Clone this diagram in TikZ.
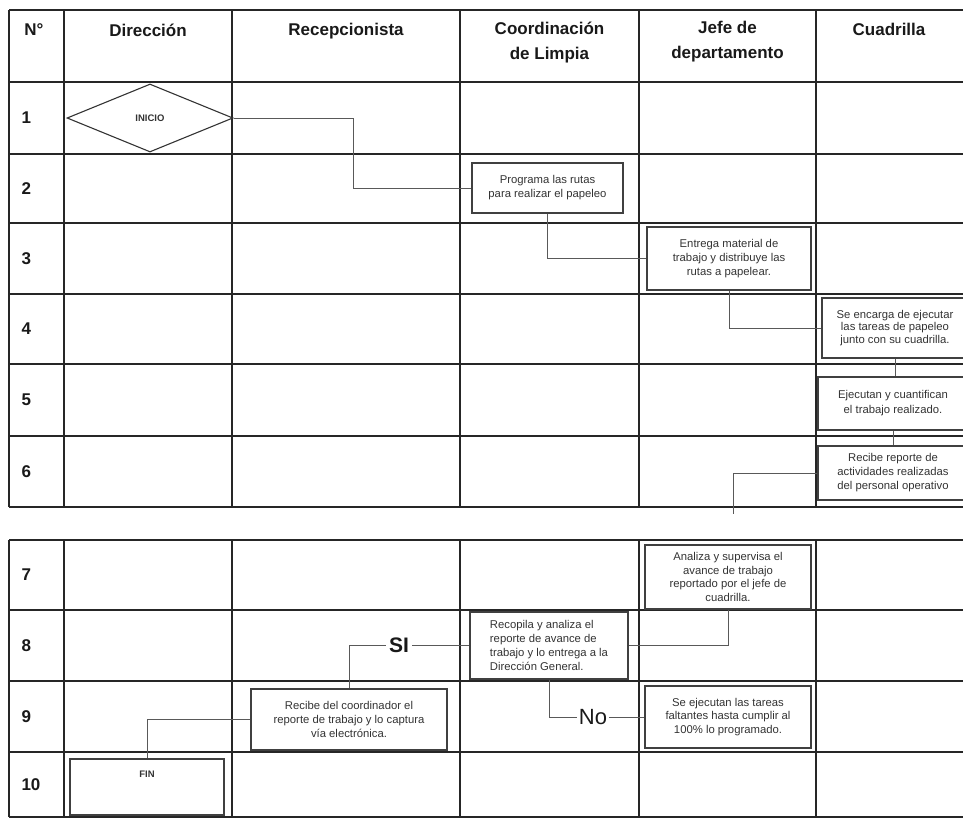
\documentclass[tikz,border=0pt]{standalone}
\usepackage{fontspec}
\setmainfont{Liberation Sans}
\usetikzlibrary{shapes.geometric,calc}
\begin{document}
\begin{tikzpicture}[x=1pt,y=-1pt,
  grid/.style={line width=1.6pt, draw=black!85},
  box/.style={draw=black!75, line width=1.1pt, rectangle, inner sep=2pt, align=center,
    font=\fontsize{11.3}{14}\selectfont, text=black!80},
  conn/.style={draw=black!65, line width=0.9pt},
  hdr/.style={font=\fontsize{17}{25}\selectfont\bfseries, align=center, anchor=north, text=black!90},
  num/.style={font=\fontsize{17}{20}\selectfont\bfseries, anchor=west, text=black!90},
  biglbl/.style={inner sep=3pt, text=black!90}
]
\useasboundingbox (0,0) rectangle (963,819);
\begin{scope}
\clip (0,0) rectangle (963,819);
% ---------- table 1 grid ----------
\foreach \yy in {10,82,154,223,294,364,436,507}
  \draw[grid] (9,\yy) -- (968,\yy);
\foreach \xx in {9,64,232,460,639,816,968}
  \draw[grid] (\xx,10) -- (\xx,507);
% ---------- table 2 grid ----------
\foreach \yy in {540,610,681,752,817}
  \draw[grid] (9,\yy) -- (968,\yy);
\foreach \xx in {9,64,232,460,639,816,968}
  \draw[grid] (\xx,540) -- (\xx,817);

% ---------- headers ----------
\node[hdr] (hN) at (34,20) {N°};
\node[hdr] (hD) at (148,20) {Dirección};
\node[hdr] (hR) at (346,20) {Recepcionista};
\node[hdr] (hC) at (549.5,18) {Coordinación\\de Limpia};
\node[hdr] (hJ) at (727.5,18) {Jefe de\\departamento};
\node[hdr] (hQ) at (889,20) {Cuadrilla};

% ---------- row numbers ----------
\node[num] (n1) at (18,118) {1};
\node[num] (n2) at (18,188.5) {2};
\node[num] (n3) at (18,258.5) {3};
\node[num] (n4) at (18,329) {4};
\node[num] (n5) at (18,400) {5};
\node[num] (n6) at (18,471.5) {6};
\node[num] (n7) at (18,575) {7};
\node[num] (n8) at (18,645.5) {8};
\node[num] (n9) at (18,716.5) {9};
\node[num] (n10) at (18,784.5) {10};

% ---------- flow elements ----------
\node[draw=black!80, line width=1.1pt, shape=diamond, aspect=2.44, inner sep=0pt,
      minimum width=166pt, minimum height=68pt,
      font=\fontsize{9.5}{10}\selectfont\bfseries, text=black!80] (inicio) at (150,118) {INICIO};

\node[box, minimum width=151pt, minimum height=50pt] (prog) at (547.5,188)
  {Programa las rutas\\para realizar el papeleo};
\node[box, minimum width=164pt, minimum height=63pt] (entrega) at (729,258.5)
  {Entrega material de\\trabajo y distribuye las\\rutas a papelear.};
\node[box, minimum width=146pt, minimum height=60pt, font=\fontsize{11.3}{12.2}\selectfont] (encarga) at (895,328)
  {Se encarga de ejecutar\\las tareas de papeleo\\junto con su cuadrilla.};
\node[box, minimum width=150pt, minimum height=53pt, font=\fontsize{11.3}{15}\selectfont] (ejecutan) at (893,403.5)
  {Ejecutan y cuantifican\\el trabajo realizado.};
\node[box, minimum width=150pt, minimum height=54pt] (recibe) at (893,473)
  {Recibe reporte de\\actividades realizadas\\del personal operativo};
\coordinate (cont) at (733,514);

\node[box, minimum width=166pt, minimum height=64pt, font=\fontsize{11.3}{13.6}\selectfont] (analiza) at (728,577)
  {Analiza y supervisa el\\avance de trabajo\\reportado por el jefe de\\cuadrilla.};
\node[box, minimum width=158pt, minimum height=67pt, align=left, font=\fontsize{11.3}{13.7}\selectfont] (recopila) at (549,645.5)
  {Recopila y analiza el\\reporte de avance de\\trabajo y lo entrega a la\\Dirección General.};
\node[box, minimum width=196pt, minimum height=61pt] (recoord) at (349,719.5)
  {Recibe del coordinador el\\reporte de trabajo y lo captura\\vía electrónica.};
\node[box, minimum width=166pt, minimum height=62pt, font=\fontsize{11.3}{13.6}\selectfont] (sejec) at (728,717)
  {Se ejecutan las tareas\\faltantes hasta cumplir al\\100\% lo programado.};
\node[box, minimum width=154pt, minimum height=56pt,
      label={[anchor=north, yshift=-9pt, font=\fontsize{9.5}{10}\selectfont\bfseries, text=black!80]north:FIN}] (fin) at (147,787) {};

\node[biglbl, font=\fontsize{21}{21}\selectfont\bfseries] (si) at (399,645.5) {SI};
\node[biglbl, inner sep=2pt, font=\fontsize{22}{22}\selectfont] (no) at (593,717) {No};

% ---------- connectors ----------
\draw[conn] (inicio.east) -- ++(120,0) |- (prog.west);
\draw[conn] (prog.south) |- (entrega.west);
\draw[conn] (entrega.south) |- (encarga.west);
\draw[conn] (encarga.south) -- (encarga.south |- ejecutan.north);
\draw[conn] (ejecutan.south) -- (ejecutan.south |- recibe.north);
\draw[conn] (recibe.west) -| (cont);
\draw[conn] (analiza.south) |- (recopila.east);
\draw[conn] (recopila.west) -- (si.east);
\draw[conn] (si.west) -| (recoord.north);
\draw[conn] (recopila.south) |- (no.west);
\draw[conn] (no.east) -- (sejec.west);
\draw[conn] (recoord.west) -| (fin.north);
\end{scope}
\end{tikzpicture}
\end{document}
